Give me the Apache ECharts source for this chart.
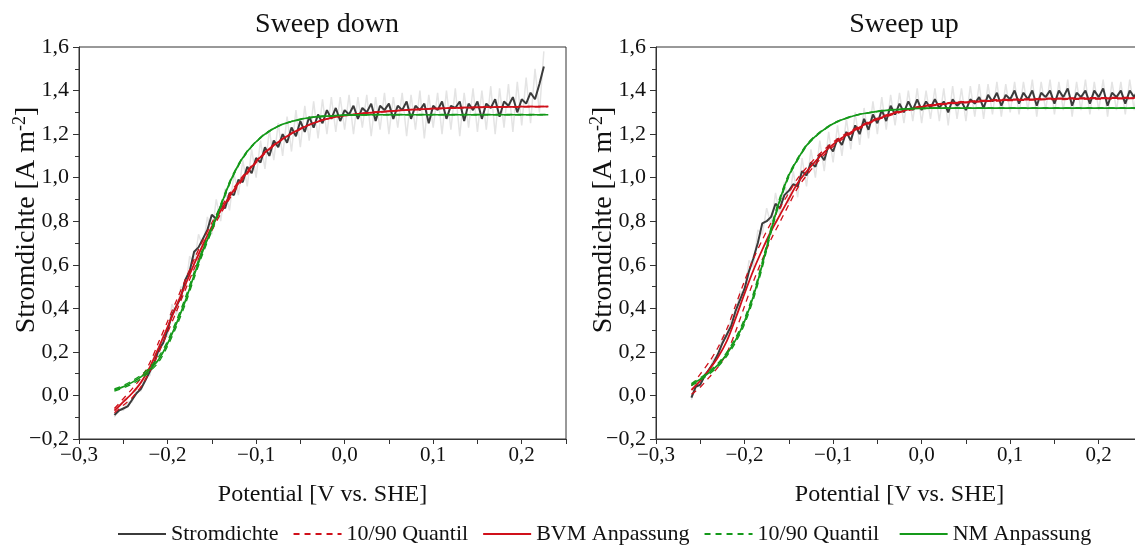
<!DOCTYPE html>
<html><head><meta charset="utf-8">
<script src="https://cdn.jsdelivr.net/npm/echarts@6/dist/echarts.min.js"></script>
<style>html,body{margin:0;padding:0;background:#fff}#c{width:1135px;height:545px}</style>
</head><body><div id="c"></div>
<script>
// ---- sampling grids (potential, V vs. SHE) ----
const rawStart = -0.26, rawStep = 0.005;   // measured curves
const fitStart = -0.26, fitStep = 0.01;    // fitted curves

// ---- Sweep down (left) ----
const downStrom = [-0.09,-0.07,-0.06,-0.05,-0.02,0.01,0.03,0.07,0.11,0.15,0.21,0.24,0.30,0.37,0.41,0.45,0.53,0.57,0.66,0.68,0.72,0.76,0.83,0.81,0.87,0.86,0.93,0.92,0.99,0.98,1.05,1.02,1.09,1.07,1.14,1.10,1.17,1.14,1.20,1.16,1.23,1.19,1.26,1.21,1.28,1.23,1.29,1.25,1.31,1.27,1.32,1.26,1.31,1.29,1.33,1.27,1.32,1.30,1.34,1.26,1.33,1.31,1.34,1.27,1.33,1.31,1.35,1.27,1.33,1.31,1.34,1.25,1.33,1.31,1.35,1.27,1.33,1.32,1.35,1.26,1.34,1.31,1.35,1.27,1.34,1.32,1.36,1.28,1.35,1.33,1.37,1.30,1.36,1.34,1.39,1.36,1.43,1.51];
const downRaw = [-0.10,-0.06,-0.07,-0.03,-0.03,0.03,0.02,0.10,0.09,0.19,0.18,0.28,0.27,0.42,0.37,0.50,0.48,0.64,0.60,0.74,0.68,0.82,0.74,0.90,0.80,0.95,0.85,1.02,0.92,1.08,0.96,1.13,1.00,1.17,1.04,1.22,1.08,1.25,1.10,1.28,1.12,1.31,1.14,1.33,1.17,1.35,1.18,1.36,1.20,1.37,1.21,1.37,1.22,1.38,1.20,1.37,1.23,1.38,1.19,1.37,1.22,1.39,1.20,1.37,1.23,1.39,1.19,1.38,1.22,1.40,1.18,1.38,1.23,1.39,1.20,1.40,1.22,1.41,1.19,1.39,1.23,1.41,1.21,1.40,1.22,1.42,1.20,1.41,1.23,1.43,1.21,1.44,1.24,1.46,1.25,1.50,1.30,1.58];
const downBVM = [-0.07,-0.03,0.01,0.06,0.13,0.22,0.314,0.41,0.507,0.603,0.692,0.775,0.848,0.914,0.973,1.025,1.073,1.115,1.149,1.178,1.203,1.224,1.243,1.258,1.27,1.279,1.285,1.29,1.295,1.299,1.302,1.305,1.308,1.311,1.313,1.315,1.317,1.318,1.32,1.321,1.322,1.323,1.324,1.324,1.325,1.325,1.326,1.326,1.326,1.327];
const downBVMq90 = [-0.06,-0.015,0.03,0.08,0.15,0.245,0.34,0.435,0.53,0.625,0.712,0.793,0.862,0.925,0.982,1.032,1.078,1.119,1.152,1.18,1.205,1.226,1.244,1.259,1.271,1.28,1.286,1.291,1.296,1.3,1.303,1.306,1.309,1.312,1.314,1.316,1.318,1.319,1.321,1.322,1.323,1.324,1.325,1.325,1.326,1.326,1.327,1.327,1.327,1.328];
const downBVMq10 = [-0.08,-0.045,-0.01,0.04,0.11,0.195,0.288,0.385,0.484,0.581,0.672,0.757,0.834,0.903,0.964,1.018,1.068,1.111,1.146,1.176,1.201,1.222,1.242,1.257,1.269,1.278,1.284,1.289,1.294,1.298,1.301,1.304,1.307,1.31,1.312,1.314,1.316,1.317,1.319,1.32,1.321,1.322,1.323,1.323,1.324,1.324,1.325,1.325,1.325,1.326];
const downNM = [0.025,0.04,0.06,0.085,0.12,0.165,0.238,0.33,0.433,0.552,0.665,0.765,0.87,0.975,1.058,1.12,1.165,1.2,1.226,1.245,1.258,1.268,1.275,1.28,1.283,1.285,1.287,1.288,1.288,1.289,1.289,1.289,1.289,1.289,1.289,1.289,1.289,1.289,1.289,1.289,1.289,1.289,1.289,1.289,1.289,1.289,1.289,1.289,1.289,1.289];
const downNMq90 = [0.03,0.046,0.067,0.093,0.13,0.177,0.25,0.344,0.448,0.566,0.677,0.775,0.878,0.981,1.062,1.123,1.167,1.202,1.227,1.246,1.259,1.269,1.276,1.281,1.284,1.286,1.288,1.289,1.289,1.29,1.29,1.29,1.29,1.29,1.29,1.29,1.29,1.29,1.29,1.29,1.29,1.29,1.29,1.29,1.29,1.29,1.29,1.29,1.29,1.29];
const downNMq10 = [0.02,0.034,0.053,0.077,0.11,0.153,0.226,0.316,0.418,0.538,0.653,0.755,0.862,0.969,1.054,1.117,1.163,1.198,1.225,1.244,1.257,1.267,1.274,1.279,1.282,1.284,1.286,1.287,1.287,1.288,1.288,1.288,1.288,1.288,1.288,1.288,1.288,1.288,1.288,1.288,1.288,1.288,1.288,1.288,1.288,1.288,1.288,1.288,1.288,1.288];

// ---- Sweep up (right) ----
const upStrom = [-0.01,0.04,0.05,0.09,0.12,0.15,0.19,0.24,0.28,0.32,0.39,0.44,0.49,0.57,0.63,0.70,0.79,0.80,0.82,0.88,0.86,0.92,0.94,0.97,0.96,1.03,1.01,1.07,1.05,1.11,1.08,1.15,1.12,1.18,1.15,1.21,1.17,1.24,1.20,1.27,1.22,1.29,1.25,1.31,1.26,1.33,1.29,1.34,1.30,1.35,1.31,1.36,1.31,1.35,1.32,1.36,1.32,1.35,1.30,1.36,1.33,1.35,1.31,1.36,1.34,1.37,1.32,1.38,1.35,1.39,1.33,1.38,1.36,1.40,1.34,1.39,1.36,1.40,1.33,1.39,1.37,1.40,1.34,1.40,1.37,1.41,1.33,1.39,1.37,1.40,1.34,1.40,1.37,1.41,1.33,1.39,1.37,1.40,1.34,1.40,1.37,1.41,1.35];
const upRaw = [-0.02,0.05,0.04,0.10,0.11,0.17,0.18,0.27,0.26,0.36,0.37,0.48,0.46,0.62,0.59,0.76,0.74,0.86,0.78,0.93,0.82,0.98,0.88,1.03,0.91,1.09,0.96,1.13,1.00,1.17,1.03,1.21,1.07,1.24,1.10,1.27,1.13,1.30,1.15,1.32,1.18,1.35,1.20,1.37,1.22,1.38,1.24,1.39,1.25,1.40,1.26,1.41,1.25,1.40,1.27,1.41,1.26,1.41,1.24,1.42,1.27,1.41,1.26,1.42,1.28,1.43,1.27,1.43,1.29,1.44,1.28,1.43,1.30,1.44,1.29,1.44,1.31,1.45,1.28,1.44,1.31,1.45,1.29,1.44,1.31,1.45,1.28,1.44,1.31,1.45,1.29,1.44,1.31,1.45,1.28,1.44,1.31,1.44,1.29,1.45,1.31,1.45,1.30];
const upBVM = [0.025,0.068,0.118,0.175,0.25,0.355,0.468,0.575,0.669,0.755,0.829,0.903,0.975,1.028,1.075,1.117,1.153,1.183,1.208,1.231,1.252,1.269,1.284,1.297,1.308,1.317,1.325,1.332,1.337,1.341,1.344,1.347,1.35,1.352,1.354,1.356,1.357,1.358,1.359,1.36,1.361,1.362,1.362,1.363,1.363,1.364,1.364,1.365,1.365,1.365,1.366,1.366];
const upBVMq90 = [0.045,0.098,0.153,0.22,0.305,0.415,0.526,0.627,0.714,0.793,0.861,0.93,0.997,1.046,1.09,1.129,1.163,1.191,1.215,1.237,1.257,1.273,1.288,1.301,1.312,1.321,1.329,1.335,1.34,1.344,1.347,1.35,1.353,1.355,1.357,1.359,1.36,1.361,1.362,1.363,1.364,1.365,1.365,1.366,1.366,1.367,1.367,1.368,1.368,1.368,1.369,1.369];
const upBVMq10 = [0.005,0.038,0.083,0.13,0.195,0.295,0.41,0.523,0.624,0.717,0.797,0.876,0.953,1.01,1.06,1.105,1.143,1.175,1.201,1.225,1.247,1.265,1.28,1.293,1.304,1.313,1.321,1.329,1.334,1.338,1.341,1.344,1.347,1.349,1.351,1.353,1.354,1.355,1.356,1.357,1.358,1.359,1.359,1.36,1.36,1.361,1.361,1.362,1.362,1.362,1.363,1.363];
const upNM = [0.05,0.075,0.105,0.14,0.19,0.255,0.34,0.455,0.6,0.76,0.9,1.01,1.085,1.148,1.19,1.222,1.248,1.266,1.28,1.291,1.298,1.304,1.309,1.312,1.315,1.317,1.318,1.319,1.319,1.319,1.319,1.319,1.319,1.319,1.319,1.319,1.319,1.319,1.319,1.319,1.319,1.319,1.319,1.319,1.319,1.319,1.319,1.319,1.319,1.319,1.319,1.319];
const upNMq90 = [0.055,0.081,0.112,0.148,0.199,0.266,0.353,0.469,0.614,0.772,0.91,1.017,1.09,1.152,1.193,1.224,1.25,1.267,1.281,1.292,1.299,1.305,1.31,1.313,1.316,1.318,1.319,1.32,1.32,1.32,1.32,1.32,1.32,1.32,1.32,1.32,1.32,1.32,1.32,1.32,1.32,1.32,1.32,1.32,1.32,1.32,1.32,1.32,1.32,1.32,1.32,1.32];
const upNMq10 = [0.045,0.069,0.098,0.132,0.181,0.244,0.327,0.441,0.586,0.748,0.89,1.003,1.08,1.144,1.187,1.22,1.246,1.265,1.279,1.29,1.297,1.303,1.308,1.311,1.314,1.316,1.317,1.318,1.318,1.318,1.318,1.318,1.318,1.318,1.318,1.318,1.318,1.318,1.318,1.318,1.318,1.318,1.318,1.318,1.318,1.318,1.318,1.318,1.318,1.318,1.318,1.318];

// ---- text ----
const panelTitles = ['Sweep down', 'Sweep up'];
const xName = 'Potential [V vs. SHE]';
const legendNames = ['Stromdichte', '10/90 Quantil', 'BVM Anpassung', '10/90 Quantil ', 'NM Anpassung'];

const RED = '#d0101a', GREEN = '#15991a', DARK = '#3b3b3b', LIGHT = '#e4e4e4';
const FONT = '"Liberation Serif","DejaVu Serif",serif';

function pair(vals, start, step) {
  return vals.map((v, i) => [Math.round((start + i * step) * 10000) / 10000, v]);
}
function fmt(v) {
  const s = Math.abs(v).toFixed(1).replace('.', ',');
  return (v < -1e-9 ? '\u2212' : '') + s;
}
function xFmt(v) {
  const k = Math.round(v * 100);
  return (k % 10 === 0) ? fmt(v) : '';
}

const grids = [
  { left: 79, top: 47, width: 487, height: 392, show: true, borderColor: '#333', borderWidth: 1, containLabel: false, outerBoundsMode: 'none' },
  { left: 656, top: 47, width: 487, height: 392, show: true, borderColor: '#333', borderWidth: 1, containLabel: false, outerBoundsMode: 'none' }
];

function xAxis(i) {
  return {
    type: 'value', gridIndex: i, min: -0.3, max: 0.25, interval: 0.05,
    name: xName, nameLocation: 'middle', nameGap: 44, nameMoveOverlap: false,
    nameTextStyle: { fontFamily: FONT, fontSize: 24, color: '#111' },
    axisLine: { onZero: false, lineStyle: { color: '#333', width: 1 } },
    axisTick: { length: 5, lineStyle: { color: '#333' } },
    axisLabel: { formatter: xFmt, fontFamily: FONT, fontSize: 21, color: '#111', margin: 6, showMaxLabel: true, showMinLabel: true },
    splitLine: { show: false }
  };
}
function yAxis(i) {
  return {
    type: 'value', gridIndex: i, min: -0.2, max: 1.6, interval: 0.2,
    name: '{a|Stromdichte [A m}{s|-2}{a|]}', nameLocation: 'middle', nameGap: 38, nameRotate: 90, nameMoveOverlap: false,
    nameTextStyle: { padding: [0, 0, 0, 46], rich: {
      a: { fontFamily: FONT, fontSize: 28, color: '#111', lineHeight: 30, verticalAlign: 'bottom' },
      s: { fontFamily: FONT, fontSize: 18, color: '#111', lineHeight: 30, verticalAlign: 'top' }
    } },
    axisLine: { show: true, onZero: false, lineStyle: { color: '#333', width: 1 } },
    axisTick: { show: true, length: 6, lineStyle: { color: '#333' } },
    minorTick: { show: true, splitNumber: 2, length: 4, lineStyle: { color: '#333' } },
    axisLabel: { formatter: fmt, fontFamily: FONT, fontSize: 22, color: '#111', margin: 10 },
    splitLine: { show: false }, minorSplitLine: { show: false }
  };
}

function line(name, i, data, color, width, dashed, z, smooth) {
  return {
    type: 'line', name, xAxisIndex: i, yAxisIndex: i, data,
    showSymbol: false, symbol: 'none', animation: false, z, smooth: smooth || false,
    lineStyle: { color, width, type: dashed ? [6, 5] : 'solid' },
    itemStyle: { color }, emphasis: { disabled: true }, silent: true
  };
}

const panels = [
  { raw: downRaw, strom: downStrom, bvm: downBVM, b90: downBVMq90, b10: downBVMq10, nm: downNM, n90: downNMq90, n10: downNMq10 },
  { raw: upRaw, strom: upStrom, bvm: upBVM, b90: upBVMq90, b10: upBVMq10, nm: upNM, n90: upNMq90, n10: upNMq10 }
];

const series = [];
panels.forEach((p, i) => {
  series.push(line('raw', i, pair(p.raw, rawStart, rawStep), LIGHT, 1.5, false, 1));
  series.push(line(legendNames[0], i, pair(p.strom, rawStart, rawStep), DARK, 2, false, 2));
  series.push(line(legendNames[1], i, pair(p.b90, fitStart, fitStep), RED, 1.3, true, 3, 0.3));
  series.push(line(legendNames[1], i, pair(p.b10, fitStart, fitStep), RED, 1.3, true, 3, 0.3));
  series.push(line(legendNames[2], i, pair(p.bvm, fitStart, fitStep), RED, 1.8, false, 4, 0.3));
  series.push(line(legendNames[3], i, pair(p.n90, fitStart, fitStep), GREEN, 1.3, true, 5, 0.3));
  series.push(line(legendNames[3], i, pair(p.n10, fitStart, fitStep), GREEN, 1.3, true, 5, 0.3));
  series.push(line(legendNames[4], i, pair(p.nm, fitStart, fitStep), GREEN, 1.7, false, 6, 0.3));
});

const chart = echarts.init(document.getElementById('c'), null, { renderer: 'canvas' });
chart.setOption({
  backgroundColor: '#fff',
  animation: false,
  title: [
    { text: panelTitles[0], left: 322, top: 6, textAlign: 'center', textStyle: { fontFamily: FONT, fontSize: 28, fontWeight: 'normal', color: '#111' } },
    { text: panelTitles[1], left: 899, top: 6, textAlign: 'center', textStyle: { fontFamily: FONT, fontSize: 28, fontWeight: 'normal', color: '#111' } }
  ],
  legend: {
    data: legendNames, left: 112, top: 518, itemWidth: 48, itemHeight: 12, itemGap: 14,
    selectedMode: false,
    itemStyle: { opacity: 0 },
    textStyle: { fontFamily: FONT, fontSize: 22, color: '#111' }
  },
  grid: grids,
  xAxis: [xAxis(0), xAxis(1)],
  yAxis: [yAxis(0), yAxis(1)],
  series
});
</script></body></html>
